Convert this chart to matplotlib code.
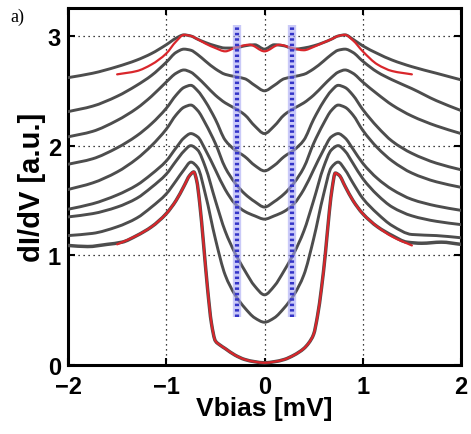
import matplotlib
matplotlib.use("Agg")
import matplotlib.pyplot as plt
import numpy as np
from matplotlib.path import Path
from matplotlib.patches import PathPatch

# ---------------- data ----------------
x_grid = [-2.0, -1.75, -1.5, -1.3, -1.15, -1.0, -0.9, -0.82, -0.75, -0.68, -0.6, -0.5,
          -0.4, -0.3, -0.2, -0.1, 0.0, 0.1, 0.2, 0.3, 0.4, 0.5, 0.6, 0.68, 0.75, 0.82,
          0.9, 1.0, 1.15, 1.3, 1.5, 1.75, 2.0]

curve1 = [2.62, 2.66, 2.72, 2.78, 2.84, 2.92, 2.98, 3.01, 3.00, 2.97, 2.94, 2.91,
          2.89, 2.89, 2.91, 2.92, 2.88, 2.92, 2.91, 2.88, 2.89, 2.91, 2.94, 2.97, 3.00, 3.01,
          2.97, 2.91, 2.84, 2.78, 2.72, 2.66, 2.60]
curve2 = [2.31, 2.36, 2.45, 2.55, 2.64, 2.76, 2.85, 2.88, 2.87, 2.83, 2.77, 2.70,
          2.65, 2.63, 2.61, 2.55, 2.50, 2.55, 2.61, 2.63, 2.65, 2.70, 2.77, 2.83, 2.87, 2.88,
          2.85, 2.77, 2.67, 2.60, 2.52, 2.41, 2.32]
curve3 = [2.08, 2.13, 2.23, 2.34, 2.45, 2.58, 2.66, 2.69, 2.67, 2.62, 2.55, 2.46,
          2.39, 2.34, 2.28, 2.18, 2.11, 2.18, 2.28, 2.34, 2.39, 2.46, 2.55, 2.62, 2.67, 2.69,
          2.66, 2.58, 2.47, 2.37, 2.27, 2.18, 2.11]
curve4 = [1.83, 1.88, 1.98, 2.09, 2.20, 2.34, 2.46, 2.53, 2.55, 2.50, 2.40, 2.24,
          2.05, 1.96, 1.90, 1.82, 1.77, 1.82, 1.90, 1.96, 2.05, 2.24, 2.40, 2.50, 2.55, 2.53,
          2.46, 2.33, 2.17, 2.04, 1.93, 1.84, 1.78]
curve5 = [1.60, 1.66, 1.76, 1.88, 2.00, 2.15, 2.28, 2.35, 2.37, 2.32, 2.20, 2.02,
          1.80, 1.66, 1.56, 1.49, 1.44, 1.49, 1.56, 1.66, 1.80, 2.02, 2.20, 2.32, 2.37, 2.35,
          2.28, 2.14, 1.98, 1.86, 1.75, 1.67, 1.62]
curve6 = [1.42, 1.47, 1.55, 1.64, 1.74, 1.86, 1.98, 2.07, 2.11, 2.08, 1.96, 1.78,
          1.60, 1.47, 1.40, 1.36, 1.33, 1.36, 1.40, 1.47, 1.60, 1.78, 1.96, 2.08, 2.11, 2.07,
          1.97, 1.84, 1.70, 1.60, 1.51, 1.45, 1.41]
curve7 = [1.35, 1.38, 1.44, 1.52, 1.62, 1.74, 1.86, 1.95, 2.00, 1.96, 1.80, 1.50,
          1.22, 1.02, 0.86, 0.72, 0.64, 0.72, 0.86, 1.02, 1.22, 1.50, 1.80, 1.96, 2.00, 1.95,
          1.84, 1.70, 1.55, 1.44, 1.36, 1.31, 1.28]
curve8 = [1.18, 1.20, 1.26, 1.34, 1.44, 1.56, 1.68, 1.78, 1.85, 1.80, 1.55, 1.15,
          0.82, 0.64, 0.52, 0.43, 0.39, 0.43, 0.52, 0.64, 0.82, 1.15, 1.55, 1.80, 1.85, 1.78,
          1.66, 1.52, 1.38, 1.27, 1.19, 1.18, 1.16]

x_low = [-2.0, -1.8, -1.6, -1.45, -1.3, -1.15, -1.0, -0.9, -0.82, -0.76, -0.72, -0.69,
         -0.66, -0.62, -0.58, -0.54, -0.5, -0.45, -0.4, -0.3, -0.2, -0.1, 0.0, 0.1, 0.2,
         0.3, 0.4, 0.45, 0.5, 0.54, 0.58, 0.62, 0.66, 0.69, 0.72, 0.76, 0.82, 0.9, 1.0,
         1.15, 1.3, 1.45, 1.6, 1.8, 2.0]
curve9 = [1.09, 1.08, 1.10, 1.12, 1.18, 1.26, 1.38, 1.50, 1.63, 1.73, 1.76, 1.68,
          1.48, 1.10, 0.70, 0.38, 0.22, 0.18, 0.15, 0.09, 0.05, 0.03, 0.02, 0.03, 0.05,
          0.09, 0.15, 0.20, 0.28, 0.45, 0.70, 1.02, 1.40, 1.62, 1.75, 1.73, 1.63, 1.50, 1.38,
          1.26, 1.18, 1.12, 1.11, 1.12, 1.10]

x_fit_low = [-1.5, -1.3, -1.15, -1.0, -0.9, -0.82, -0.76, -0.72, -0.69, -0.66, -0.62,
             -0.58, -0.54, -0.5, -0.45, -0.4, -0.3, -0.2, -0.1, 0.0, 0.1, 0.2, 0.3, 0.4,
             0.45, 0.5, 0.54, 0.58, 0.62, 0.66, 0.69, 0.72, 0.76, 0.82, 0.9, 1.0, 1.15,
             1.3, 1.5]
fit_low = [1.10, 1.18, 1.26, 1.38, 1.50, 1.63, 1.73, 1.76, 1.68, 1.48, 1.10,
           0.70, 0.38, 0.22, 0.18, 0.15, 0.09, 0.05, 0.03, 0.02, 0.03, 0.05, 0.09, 0.15,
           0.20, 0.28, 0.45, 0.70, 1.02, 1.40, 1.62, 1.75, 1.73, 1.63, 1.50, 1.38, 1.26,
           1.17, 1.09]

x_fit_top = [-1.5, -1.3, -1.15, -1.0, -0.9, -0.82, -0.75, -0.68, -0.6, -0.5, -0.4,
             -0.28, -0.15, 0.0, 0.15, 0.28, 0.4, 0.5, 0.6, 0.68, 0.75, 0.82, 0.9, 1.0,
             1.15, 1.3, 1.5]
fit_top = [2.65, 2.68, 2.74, 2.84, 2.95, 3.01, 3.00, 2.97, 2.93, 2.89, 2.86,
           2.90, 2.92, 2.86, 2.92, 2.89, 2.87, 2.90, 2.94, 2.97, 3.00, 3.01, 2.96, 2.86,
           2.74, 2.68, 2.65]

gap_marks = [-0.28, 0.28]
gap_span = [0.44, 3.1]

x_ticks = [-2, -1, 0, 1, 2]
y_ticks = [0, 1, 2, 3]
x_ticklabels = ['\u22122', '\u22121', '0', '1', '2']


def smooth_path(xs, ys):
    """Monotone cubic (PCHIP-style) Bezier path through the read points."""
    x = np.asarray(xs, float)
    y = np.asarray(ys, float)
    h = np.diff(x)
    d = np.diff(y) / h
    n = len(x)
    m = np.zeros(n)
    for i in range(1, n - 1):
        if d[i - 1] * d[i] <= 0:
            m[i] = 0.0
        else:
            w1 = 2 * h[i] + h[i - 1]
            w2 = h[i] + 2 * h[i - 1]
            m[i] = (w1 + w2) / (w1 / d[i - 1] + w2 / d[i])
    m[0] = d[0]
    m[-1] = d[-1]
    verts = [(x[0], y[0])]
    codes = [Path.MOVETO]
    for i in range(n - 1):
        verts += [(x[i] + h[i] / 3, y[i] + m[i] * h[i] / 3),
                  (x[i + 1] - h[i] / 3, y[i + 1] - m[i + 1] * h[i] / 3),
                  (x[i + 1], y[i + 1])]
        codes += [Path.CURVE4] * 3
    return Path(verts, codes)


def draw(ax, xs, ys, **kw):
    p = PathPatch(smooth_path(xs, ys), fill=False, capstyle='round',
                  joinstyle='round', **kw)
    ax.add_patch(p)


# ---------------- figure ----------------
plt.rcParams['font.family'] = ['Liberation Sans', 'DejaVu Sans']
fig = plt.figure(figsize=(4.71, 4.35), dpi=100)
ax = fig.add_axes([68/471, 1-366/435, (461-68)/471, (366-9)/435])

gray = '#4d4d4d'
red = '#d9262b'
for c in [curve1, curve2, curve3, curve4, curve5, curve6, curve7, curve8]:
    draw(ax, x_grid, c, edgecolor=gray, lw=2.1, zorder=3)
draw(ax, x_low, curve9, edgecolor=gray, lw=2.5, zorder=3)
draw(ax, x_fit_low, fit_low, edgecolor=red, lw=1.6, zorder=4)
draw(ax, x_fit_top, fit_top, edgecolor=red, lw=1.6, zorder=4)

for xm in gap_marks:
    ax.plot([xm, xm], gap_span, color='#a8a8f4', lw=6, alpha=0.6, zorder=5,
            solid_capstyle='butt')
    ax.plot([xm, xm], gap_span, color='#3434c8', lw=3, dashes=(0.6, 0.7), zorder=6)

ax.set_xlim(-2, 2)
ax.set_ylim(0, 3.255)
ax.set_xticks(x_ticks)
ax.set_yticks(y_ticks)
ax.set_xticklabels(x_ticklabels)
ax.grid(True, color='black', linestyle=(0, (1, 3)), lw=0.9)
ax.set_axisbelow(True)
ax.tick_params(direction='in', length=5, width=1.5, top=True, right=True,
               labelsize=17)
ax.tick_params(axis='x', pad=7)
ax.tick_params(axis='y', pad=5)
for lab in ax.get_xticklabels() + ax.get_yticklabels():
    lab.set_fontweight('bold')
for s in ax.spines.values():
    s.set_linewidth(2.2)

ax.set_xlabel('Vbias [mV]', fontsize=19, fontweight='bold', labelpad=-1)
ax.set_ylabel('dI/dV [a.u.]', fontsize=21, fontweight='bold', labelpad=1)

fig.text(10/471, 1-17/435, 'a)', family=['Liberation Serif', 'DejaVu Serif'],
         fontsize=13, ha='left', va='center')

fig.savefig('out.png', dpi=100)
